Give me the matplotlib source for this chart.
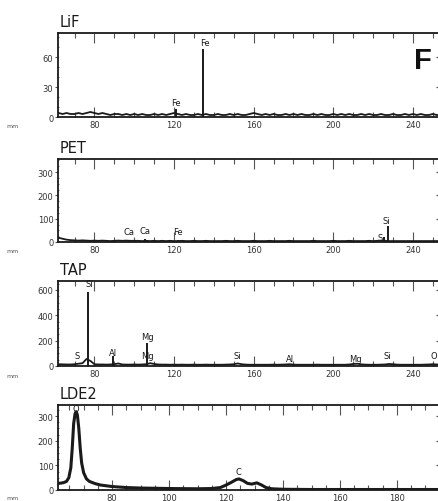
import numpy as np
import matplotlib
matplotlib.use("Agg")
import matplotlib.pyplot as plt
from matplotlib.ticker import MultipleLocator, FixedLocator

plt.rcParams["font.family"] = ["DejaVu Sans"]

# --- LiF spectrum (counts vs mm) ---
lif_x = np.arange(62, 255, 2)
lif_base = [4, 3, 4, 3, 3, 4, 3, 4, 5, 4,
            3, 4, 3, 2, 3, 3, 2, 3, 2, 3,
            2, 3, 2, 2, 3, 2, 3, 2, 3, 4,
            3, 2, 3, 2, 2, 3, 2, 3, 2, 2,
            3, 2, 2, 3, 2, 3, 2, 2, 3, 4,
            3, 2, 3, 2, 3, 2, 2, 3, 2, 3,
            2, 3, 2, 2, 3, 2, 3, 2, 2, 3,
            2, 3, 2, 3, 2, 2, 3, 2, 3, 2,
            2, 3, 2, 2, 3, 2, 2, 3, 2, 3,
            2, 3, 2, 2, 3, 2, 2]
lif_peak_x = [120.9, 134.5]
lif_peak_y = [8, 68]
lif_labels = [("Fe", 121.0, 14), ("Fe", 135.5, 74)]

# --- PET spectrum ---
pet_x = np.arange(62, 255, 2)
pet_base = [18, 14, 10, 8, 7, 6, 7, 6, 5, 6,
            5, 6, 5, 4, 5, 6, 5, 6, 5, 5,
            5, 4, 5, 4, 5, 4, 5, 4, 5, 4,
            4, 5, 4, 4, 5, 4, 4, 5, 4, 4,
            4, 4, 5, 4, 4, 5, 4, 4, 4, 5,
            4, 4, 4, 5, 4, 4, 4, 4, 5, 4,
            4, 4, 4, 4, 5, 4, 4, 4, 4, 5,
            4, 4, 4, 5, 4, 4, 4, 4, 5, 4,
            5, 6, 5, 4, 4, 4, 4, 4, 4, 4,
            4, 4, 4, 4, 4, 4, 4]
pet_peak_x = [97.5, 105.4, 122.0, 225.3, 227.4]
pet_peak_y = [10, 12, 8, 22, 69]
pet_labels = [("Ca", 97.5, 43), ("Ca", 105.4, 51), ("Fe", 122.0, 43),
              ("S", 223.3, 21), ("Si", 226.6, 94)]

# --- TAP spectrum ---
tap_x = np.arange(62, 255, 2)
tap_base = [14, 13, 12, 12, 14, 18, 22, 55, 40, 14,
            12, 12, 11, 12, 14, 20, 12, 11, 11, 12,
            11, 12, 14, 22, 16, 12, 11, 11, 10, 11,
            10, 11, 10, 10, 11, 10, 10, 11, 10, 10,
            10, 10, 11, 12, 14, 20, 14, 11, 10, 10,
            10, 10, 10, 10, 11, 10, 11, 12, 14, 11,
            10, 10, 10, 10, 10, 11, 10, 10, 10, 10,
            10, 10, 10, 12, 16, 18, 13, 11, 10, 10,
            10, 11, 12, 16, 14, 11, 10, 10, 10, 10,
            10, 10, 11, 12, 14, 12, 11]
tap_peak_x = [76.7, 89.3, 106.4]
tap_peak_y = [584, 75, 185]
tap_labels = [("Si", 77.2, 655), ("S", 71.2, 79), ("Al", 89.3, 110),
              ("Mg", 106.4, 229), ("Mg", 106.4, 79), ("Si", 151.6, 79),
              ("Al", 178.2, 63), ("Mg", 210.9, 63), ("Si", 227.0, 79),
              ("O", 250.5, 79)]

# --- LDE2 spectrum ---
lde_x = [61, 62, 63, 64, 64.8, 65.5, 66.0, 66.5, 67.0, 67.4, 67.8, 68.3,
         68.8, 69.3, 70, 71, 72, 74, 76, 80, 85, 90, 100, 110, 115, 118,
         120, 122, 123.5, 124.5, 126, 127.5, 129, 130.8, 132.5, 134, 136,
         140, 150, 160, 170, 180, 196]
lde_y = [27, 28, 30, 35, 50, 90, 170, 270, 310, 318, 305, 250,
         170, 110, 70, 45, 35, 26, 20, 14, 10, 8, 6, 5, 6, 10,
         20, 32, 42, 45, 38, 27, 24, 29, 20, 10, 5,
         3, 2, 2, 2, 2, 2]
lde_labels = [("O", 67.4, 329), ("C", 124.2, 77)]

panels = [
    dict(name="LiF", x=lif_x, y=lif_base, px=lif_peak_x, py=lif_peak_y,
         labels=lif_labels, top=34, bot=118, xlim=(61.7, 253.6), ylim=(0, 84),
         yt=[0, 30, 60], ymin=10, xmaj=40, xmin=10, mm=127),
    dict(name="PET", x=pet_x, y=pet_base, px=pet_peak_x, py=pet_peak_y,
         labels=pet_labels, top=160, bot=243, xlim=(61.7, 253.6), ylim=(0, 356),
         yt=[0, 100, 200, 300], ymin=25, xmaj=40, xmin=10, mm=252),
    dict(name="TAP", x=tap_x, y=tap_base, px=tap_peak_x, py=tap_peak_y,
         labels=tap_labels, top=282, bot=367, xlim=(61.7, 253.6), ylim=(0, 671),
         yt=[0, 200, 400, 600], ymin=50, xmaj=40, xmin=10, mm=377),
    dict(name="LDE2", x=lde_x, y=lde_y, px=[], py=[],
         labels=lde_labels, top=406, bot=491, xlim=(61.0, 195.1), ylim=(0, 345),
         yt=[0, 100, 200, 300], ymin=25, xmaj=20, xmin=5, mm=499),
]

W, H = 439, 502
fig = plt.figure(figsize=(W / 100, H / 100), dpi=100)
ink = "#1a1a1a"

for p in panels:
    left, right = 58, 440
    ax = fig.add_axes([left / W, 1 - p["bot"] / H, (right - left) / W,
                       (p["bot"] - p["top"]) / H])
    lw = 2.2 if p["name"] == "LDE2" else 1.3
    ax.plot(p["x"], p["y"], color=ink, lw=lw, solid_joinstyle="round")
    if len(p["px"]):
        ax.vlines(p["px"], 0, p["py"], color=ink, lw=1.4)
    for txt, lx, ly in p["labels"]:
        ax.text(lx, ly, txt, fontsize=6, ha="center", va="center", color=ink)

    ax.set_xlim(*p["xlim"])
    ax.set_ylim(*p["ylim"])
    ax.xaxis.set_major_locator(MultipleLocator(p["xmaj"]))
    ax.xaxis.set_minor_locator(MultipleLocator(p["xmin"]))
    ax.yaxis.set_major_locator(FixedLocator(p["yt"]))
    ax.yaxis.set_minor_locator(MultipleLocator(p["ymin"]))
    ax.tick_params(axis="x", which="both", direction="in", top=True,
                   bottom=True, color="#555555", width=0.8, labelsize=6,
                   pad=2.5, labelcolor="#333333")
    ax.tick_params(axis="x", which="major", length=7)
    ax.tick_params(axis="x", which="minor", length=3.5)
    ax.tick_params(axis="y", which="major", direction="out", length=2.5,
                   width=0.8, labelsize=6, pad=0.8, labelcolor="#333333",
                   color="#555555")
    ax.tick_params(axis="y", which="minor", direction="inout", length=1.5,
                   width=0.8, color="#777777")
    for s in ["left", "top", "bottom"]:
        ax.spines[s].set_linewidth(1.3)
        ax.spines[s].set_color(ink)
    ax.spines["right"].set_visible(False)

    # right-hand ticks (spine itself falls just outside the picture)
    ax2 = ax.twinx()
    ax2.set_ylim(*p["ylim"])
    ax2.yaxis.set_major_locator(FixedLocator(p["yt"][1:]))
    ax2.tick_params(axis="y", direction="in", length=3, width=0.9,
                    color="#555555", labelright=False)
    for s in ax2.spines.values():
        s.set_visible(False)

    ax.text(0.005, 1 + 7 / (p["bot"] - p["top"]), p["name"],
            transform=ax.transAxes, fontsize=10.5, ha="left",
            va="baseline", color=ink)
    fig.text(13 / W, 1 - p["mm"] / H, "mm", fontsize=4.5, color="#555555",
             ha="center", va="center")

# panel letter
fig.text(423 / W, 1 - 61 / H, "F", fontsize=21, fontweight="bold",
         family="Liberation Sans", ha="center", va="center", color="#111111")

fig.savefig("out.png", dpi=100, facecolor="white")
